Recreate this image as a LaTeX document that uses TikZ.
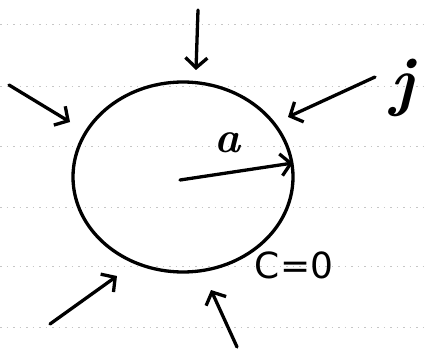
\documentclass[tikz,border=0pt]{standalone}
\usepackage{fontspec}
\setsansfont{DejaVu Sans}
\usetikzlibrary{arrows.meta,shapes.geometric}
\begin{document}
\begin{tikzpicture}[x=1pt,y=-1pt,
  ink/.style={line width=3.3pt,line cap=round,line join=round},
  flux/.style={ink,-{Straight Barb[length=10pt,width=22pt,line width=3.3pt]}},
  paper/.style={gray!45,line width=0.6pt,dash pattern=on 1.5pt off 5pt}]
\useasboundingbox (0,0) rectangle (425,350);
% faint ruled lines
\foreach \yy in {24,86,146,207,266,327}
  \draw[paper] (0,\yy) -- (425,\yy);
% the sphere
\node[ink,draw,ellipse,minimum width=220pt,minimum height=190pt,inner sep=0pt] (circ) at (183,177) {};
% arrow end points
\coordinate (t0) at (198,10);   \coordinate (t1) at (196,70);
\coordinate (l0) at (9,85);     \coordinate (l1) at (70,122);
\coordinate (r0) at (375,77);   \coordinate (r1) at (288,117);
\coordinate (bl0) at (50,324);  \coordinate (bl1) at (117,276);
\coordinate (b0) at (237,347);  \coordinate (b1) at (211,290);
\coordinate (o) at (180,180);   \coordinate (rim) at (293,163);
\draw[flux] (t0) -- (t1);
\draw[flux] (l0) -- (l1);
\draw[flux] (r0) -- (r1);
\draw[flux] (bl0) -- (bl1);
\draw[flux] (b0) -- (b1);
\draw[flux] (o) -- (rim);
% labels
\node[font=\fontsize{44}{44}\selectfont\bfseries\itshape] (alab) at (227,143) {a};
\node[font=\fontsize{66}{66}\selectfont\bfseries\itshape] (jlab) at (402,88) {j};
\node[font=\fontsize{36}{36}\selectfont\sffamily] (clab) at (294,265) {C=0};
\end{tikzpicture}
\end{document}
